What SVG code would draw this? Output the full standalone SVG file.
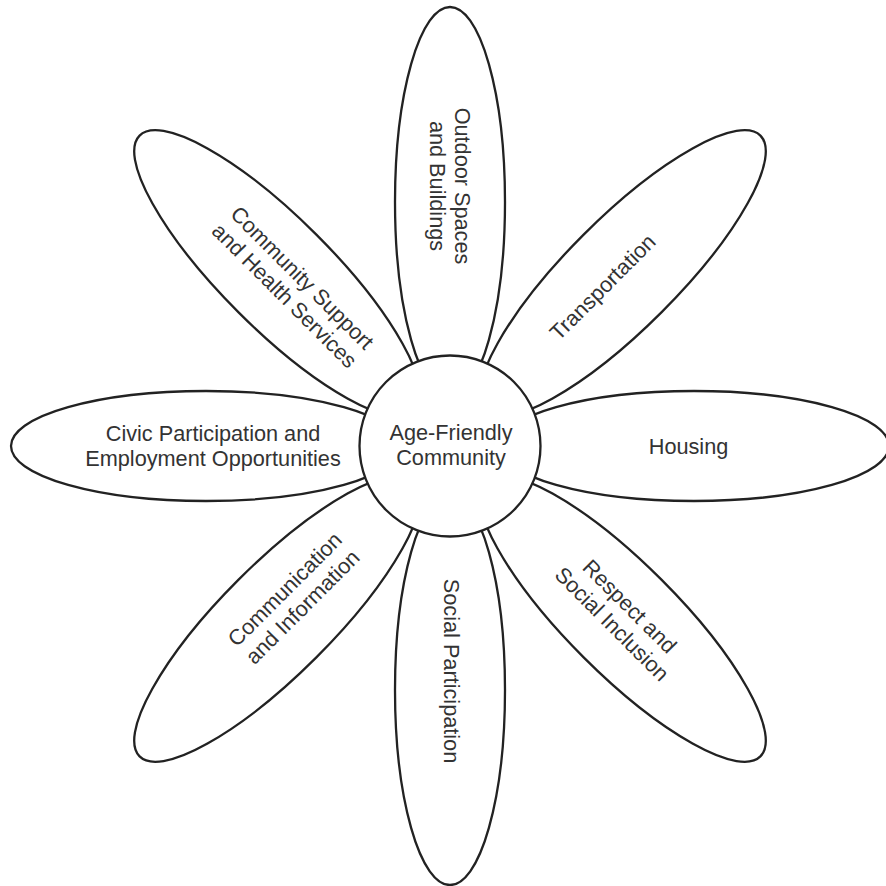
<svg xmlns="http://www.w3.org/2000/svg" width="886" height="886" viewBox="0 0 886 886">
  <style>
    .petal { fill: #ffffff; stroke: #222222; stroke-width: 2.3; }
    .hub { fill: #ffffff; stroke: #222222; stroke-width: 2.3; }
    .label { font-family: "Liberation Sans", Arial, sans-serif; font-size: 21.7px; fill: #333333; text-anchor: middle; }
  </style>
  <defs>
    <!-- one petal, pointing along +x from the hub centre -->
    <ellipse id="petal-shape" cx="244" cy="0" rx="195" ry="55"/>
  </defs>
  <rect width="886" height="886" fill="#ffffff"/>

  <g id="connectors"/>

  <g id="petal-housing">
    <use href="#petal-shape" class="petal" transform="translate(450,446) rotate(0)"/>
    <text class="label" transform="translate(688.5,446)"><tspan x="0" y="7.7">Housing</tspan></text>
  </g>
  <g id="petal-respect">
    <use href="#petal-shape" class="petal" transform="translate(450,446) rotate(45)"/>
    <text class="label" transform="translate(621,615) rotate(45)"><tspan x="0" y="-4.8">Respect and</tspan><tspan x="0" y="20.2">Social Inclusion</tspan></text>
  </g>
  <g id="petal-social">
    <use href="#petal-shape" class="petal" transform="translate(450,446) rotate(90)"/>
    <text class="label" transform="translate(452,671) rotate(90)"><tspan x="0" y="7.7">Social Participation</tspan></text>
  </g>
  <g id="petal-communication">
    <use href="#petal-shape" class="petal" transform="translate(450,446) rotate(135)"/>
    <text class="label" transform="translate(293.5,598) rotate(-45)"><tspan x="0" y="-4.8">Communication</tspan><tspan x="0" y="20.2">and Information</tspan></text>
  </g>
  <g id="petal-civic">
    <use href="#petal-shape" class="petal" transform="translate(450,446) rotate(180)"/>
    <text class="label" transform="translate(213,445.8)"><tspan x="0" y="-4.8">Civic Participation and</tspan><tspan x="0" y="20.2">Employment Opportunities</tspan></text>
  </g>
  <g id="petal-community">
    <use href="#petal-shape" class="petal" transform="translate(450,446) rotate(225)"/>
    <text class="label" transform="translate(293.5,286.5) rotate(45)"><tspan x="0" y="-4.8">Community Support</tspan><tspan x="0" y="20.2">and Health Services</tspan></text>
  </g>
  <g id="petal-outdoor">
    <use href="#petal-shape" class="petal" transform="translate(450,446) rotate(270)"/>
    <text class="label" transform="translate(450,186) rotate(90)"><tspan x="0" y="-4.8">Outdoor Spaces</tspan><tspan x="0" y="20.2">and Buildings</tspan></text>
  </g>
  <g id="petal-transportation">
    <use href="#petal-shape" class="petal" transform="translate(450,446) rotate(315)"/>
    <text class="label" transform="translate(602.5,287) rotate(-45)"><tspan x="0" y="7.7">Transportation</tspan></text>
  </g>

  <g id="hub">
    <circle class="hub" cx="450" cy="446" r="90.5"/>
    <text class="label" transform="translate(451,444.5)"><tspan x="0" y="-4.8">Age-Friendly</tspan><tspan x="0" y="20.2">Community</tspan></text>
  </g>
</svg>
